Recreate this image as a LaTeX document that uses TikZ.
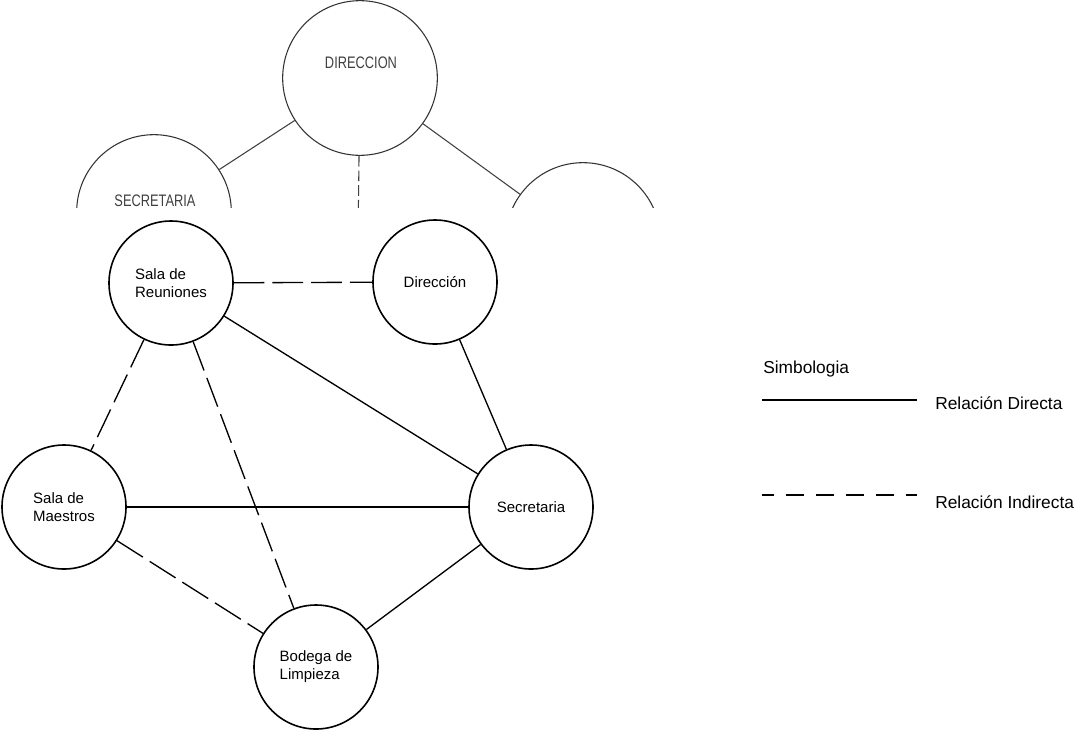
\documentclass[tikz,border=0pt]{standalone}
\usepackage{fontspec}
\setmainfont{Liberation Sans}
\newfontfamily\narrowfont[FakeStretch=0.77]{Liberation Sans}

\begin{document}
\begin{tikzpicture}[x=0.75pt, y=-0.75pt,
  sala/.style={draw, circle, line width=1.2pt, minimum size=93pt, inner sep=0pt,
               align=left, font=\fontsize{11.25}{13.5}\selectfont},
  directa/.style={line width=1pt},
  indirecta/.style={line width=1pt, dash pattern=on 23pt off 6pt},
  viejo/.style={draw=black!80, circle, line width=0.8pt, minimum size=116pt, inner sep=0pt},
  viejotxt/.style={text=black!75, font=\narrowfont\fontsize{12.5}{14}\selectfont},
  leyenda/.style={anchor=west, inner sep=0pt, font=\fontsize{13}{15}\selectfont}]

  \useasboundingbox (0,0) rectangle (1081,729);

  % older sketch, cut off at the top
  \begin{scope}
    \clip (0,0) rectangle (1081,207);
    \node[viejo] (tdir) at (360,78)  {};
    \node[viejo] (tsec) at (154,212) {};
    \node[viejo] (tder) at (583,240) {};
    \coordinate (tabj) at (357,320);
    \node[viejotxt] (tdirtxt) at (361,63)  {DIRECCION};
    \node[viejotxt] (tsectxt) at (155,201) {SECRETARIA};
    \draw[black!75, line width=0.8pt] (tdir) -- (tsec);
    \draw[black!75, line width=0.8pt] (tdir) -- (tder);
    \draw[black!75, line width=0.8pt, dash pattern=on 8pt off 3pt] (tdir) -- (tabj);
  \end{scope}

  \node[sala] (reu) at (171,283) {Sala de\\Reuniones};
  \node[sala] (dir) at (435,282) {Dirección};
  \node[sala] (mae) at (64,507)  {Sala de\\Maestros};
  \node[sala] (sec) at (531,507) {Secretaria};
  \node[sala] (bod) at (316,667) {Bodega de\\Limpieza};

  \draw[indirecta] (reu) -- (dir);
  \draw[indirecta] (reu) -- (mae);
  \draw[indirecta] (reu) -- (bod);
  \draw[indirecta] (mae) -- (bod);
  \draw[directa] (reu) -- (sec);
  \draw[directa] (dir) -- (sec);
  \draw[directa] (mae) -- (sec);
  \draw[directa] (sec) -- (bod);

  % simbologia
  \node[leyenda] (simb) at (763,369) {Simbologia};
  \coordinate (d0) at (762,400);
  \coordinate (d1) at (917,400);
  \coordinate (i0) at (762,495);
  \coordinate (i1) at (917,495);
  \draw[line width=2pt] (d0) -- (d1);
  \draw[line width=1.5pt, dash pattern=on 13.5pt off 9pt, dash phase=4.5pt] (i0) -- (i1);
  \node[leyenda] (ldir) at (935,403) {Relación Directa};
  \node[leyenda] (lind) at (935,502) {Relación Indirecta};

\end{tikzpicture}
\end{document}
